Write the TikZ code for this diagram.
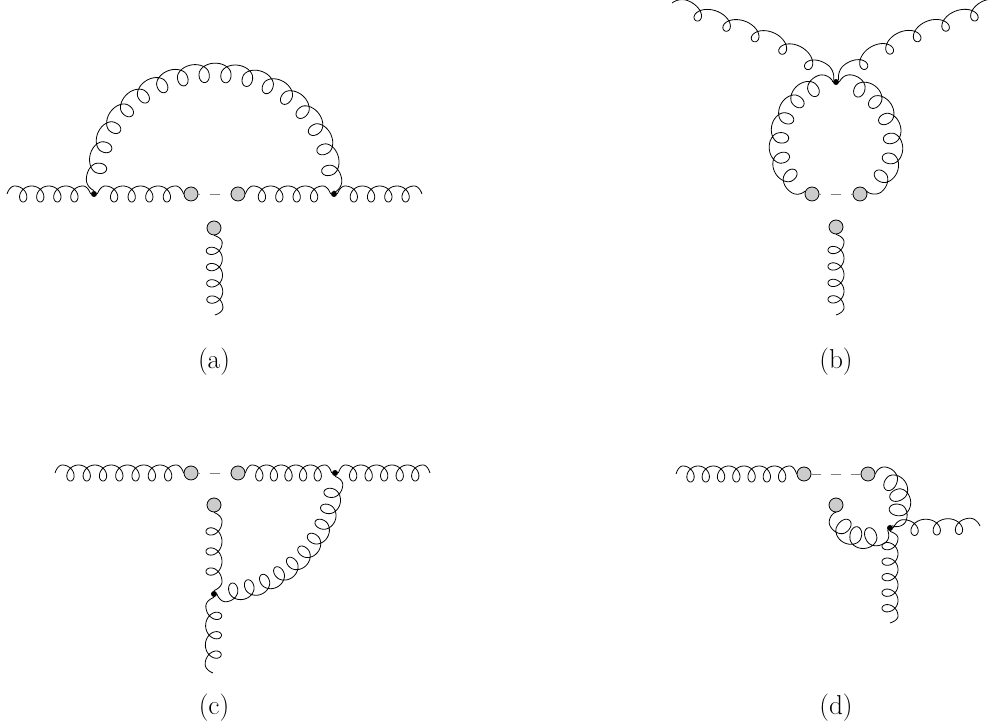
\documentclass[tikz,border=0pt]{standalone}
\usetikzlibrary{decorations}
\def\gluonroom{1}
\pgfdeclaredecoration{gluonline}{setup}{
    \state{setup}[width=0pt, next state=wind, persistent precomputation={
        \pgfmathsetlengthmacro\gluonstep{(\pgfdecoratedpathlength+6pt-6pt*\gluonroom)/(\gluonloops+0.5+0.4*\gluonroom)}
        \pgfmathsetlengthmacro\gluonside{\gluonroom*(0.2*\gluonstep+3pt)}
    }]{}
    \state{wind}[switch if less than=2*\gluonside-6pt to final, width=\gluonstep/30]{
        \pgfmathsetmacro\gluonturn{360*(\pgfdecoratedcompleteddistance/\gluonstep)}
        \pgfmathsetmacro\gluonpull{(\gluonturn<90 || \gluonturn>=360*\gluonloops+90) ? 3*(1-cos(\gluonturn)) : 3}
        \pgfmathsetmacro\gluonrise{sin(\gluonturn) < 0 ? 6*\gluonroom*\gluonroom*sin(\gluonturn) : 6*sin(\gluonturn)}
        \pgfpathlineto{\pgfpoint{\gluonside*(1-cos(\gluonturn))-\gluonpull pt}{\gluonrise pt}}
    }
    \state{final}{\pgfpathlineto{\pgfpointdecoratedpathlast}}
}
\tikzset{
    gluon/.code={\def\gluonloops{#1}\tikzset{decorate, decoration=gluonline, line join=round}},
    gluon/.default=4,
    roomy/.code={\def\gluonroom{#1}},
    blob/.style={circle, draw, fill=black!20, inner sep=0pt, minimum size=10.5pt, line width=0.6pt},
    vertex/.style={circle, fill=black, inner sep=0pt, minimum size=4.5pt},
    cut/.style={gray, dash pattern=on 7.5pt off 7.5pt, dash phase=6pt, line width=0.6pt},
    tag/.style={font=\fontsize{20.5}{24}\selectfont}
}
\begin{document}
\begin{tikzpicture}[x=0.75pt, y=0.75pt, line width=0.6pt]
            \useasboundingbox (0,0) rectangle (990,724);

            % (a)
            \coordinate (aL) at (7,530);
            \coordinate (aR) at (422,530);
            \coordinate (aE) at (215,409);
            \node[vertex] (a1) at (94,530) {};
            \node[vertex] (a2) at (334,530) {};
            \node[blob] (a3) at (191,530) {};
            \node[blob] (a4) at (238,530) {};
            \node[blob] (a5) at (214,496) {};
            \draw[gluon] (aL) -- (a1);
            \draw[gluon] (a1) -- (a3);
            \draw[gluon] (a4) -- (a2);
            \draw[gluon] (a2) -- (aR);
            \draw[gluon] (a5) -- (aE);
            \draw[gluon=16, roomy=1.18] (a1) to[out=90, in=90, looseness=1.7] (a2);
            \draw[cut] (a3) -- (a4);
            \node[tag] (atag) at (214,362) {(a)};

            % (b)
            \coordinate (bL) at (672,721);
            \coordinate (bR) at (1000,721);
            \coordinate (bE) at (836,409);
            \node[vertex] (b1) at (836,642) {};
            \node[blob] (b2) at (812,530) {};
            \node[blob] (b3) at (860,530) {};
            \node[blob] (b4) at (836,497) {};
            \draw[gluon=5] (bL) to[out=-22, in=140] (b1);
            \draw[gluon=5] (b1) to[out=40, in=202] (bR);
            \draw[gluon=6, roomy=1.18] (b2) to[out=156, in=180, looseness=1.25] (b1);
            \draw[gluon=6, roomy=1.18] (b1) to[out=0, in=24, looseness=1.25] (b3);
            \draw[gluon] (b4) -- (bE);
            \draw[cut] (b2) -- (b3);
            \node[tag] (btag) at (836,362) {(b)};

            % (c)
            \coordinate (cL) at (55,251);
            \coordinate (cR) at (430,251);
            \coordinate (cE) at (213,51);
            \node[blob] (c1) at (191,251) {};
            \node[blob] (c2) at (238,251) {};
            \node[vertex] (c3) at (335,251) {};
            \node[blob] (c4) at (214,219) {};
            \node[vertex] (c5) at (214,130) {};
            \draw[gluon=7] (cL) -- (c1);
            \draw[gluon=5] (c2) -- (c3);
            \draw[gluon=5] (c3) -- (cR);
            \draw[gluon=3] (c4) -- (c5);
            \draw[gluon=3] (cE) -- (c5);
            \draw[gluon=10, roomy=1.12] (c3) to[out=-90, in=0] (c5);
            \draw[cut] (c1) -- (c2);
            \node[tag] (ctag) at (214,16) {(c)};

            % (d)
            \coordinate (dL) at (676,250);
            \coordinate (dR) at (980,198);
            \coordinate (dE) at (890,101);
            \node[blob] (d1) at (804,250) {};
            \node[blob] (d2) at (868,250) {};
            \node[blob] (d3) at (836,219) {};
            \node[vertex] (d4) at (890,196) {};
            \draw[gluon=7] (dL) -- (d1);
            \draw[gluon=3] (d4) -- (dR);
            \draw[gluon=5] (d4) -- (dE);
            \draw[gluon=3, roomy=1.25] (d2) to[out=0, in=45, looseness=1.25] (d4);
            \draw[gluon=3, roomy=1.25] (d4) to[out=-135, in=-90, looseness=1.25] (d3);
            \draw[cut, dash phase=0pt] (d1) -- (d2);
            \node[tag] (dtag) at (836,16) {(d)};
        \end{tikzpicture}
\end{document}
